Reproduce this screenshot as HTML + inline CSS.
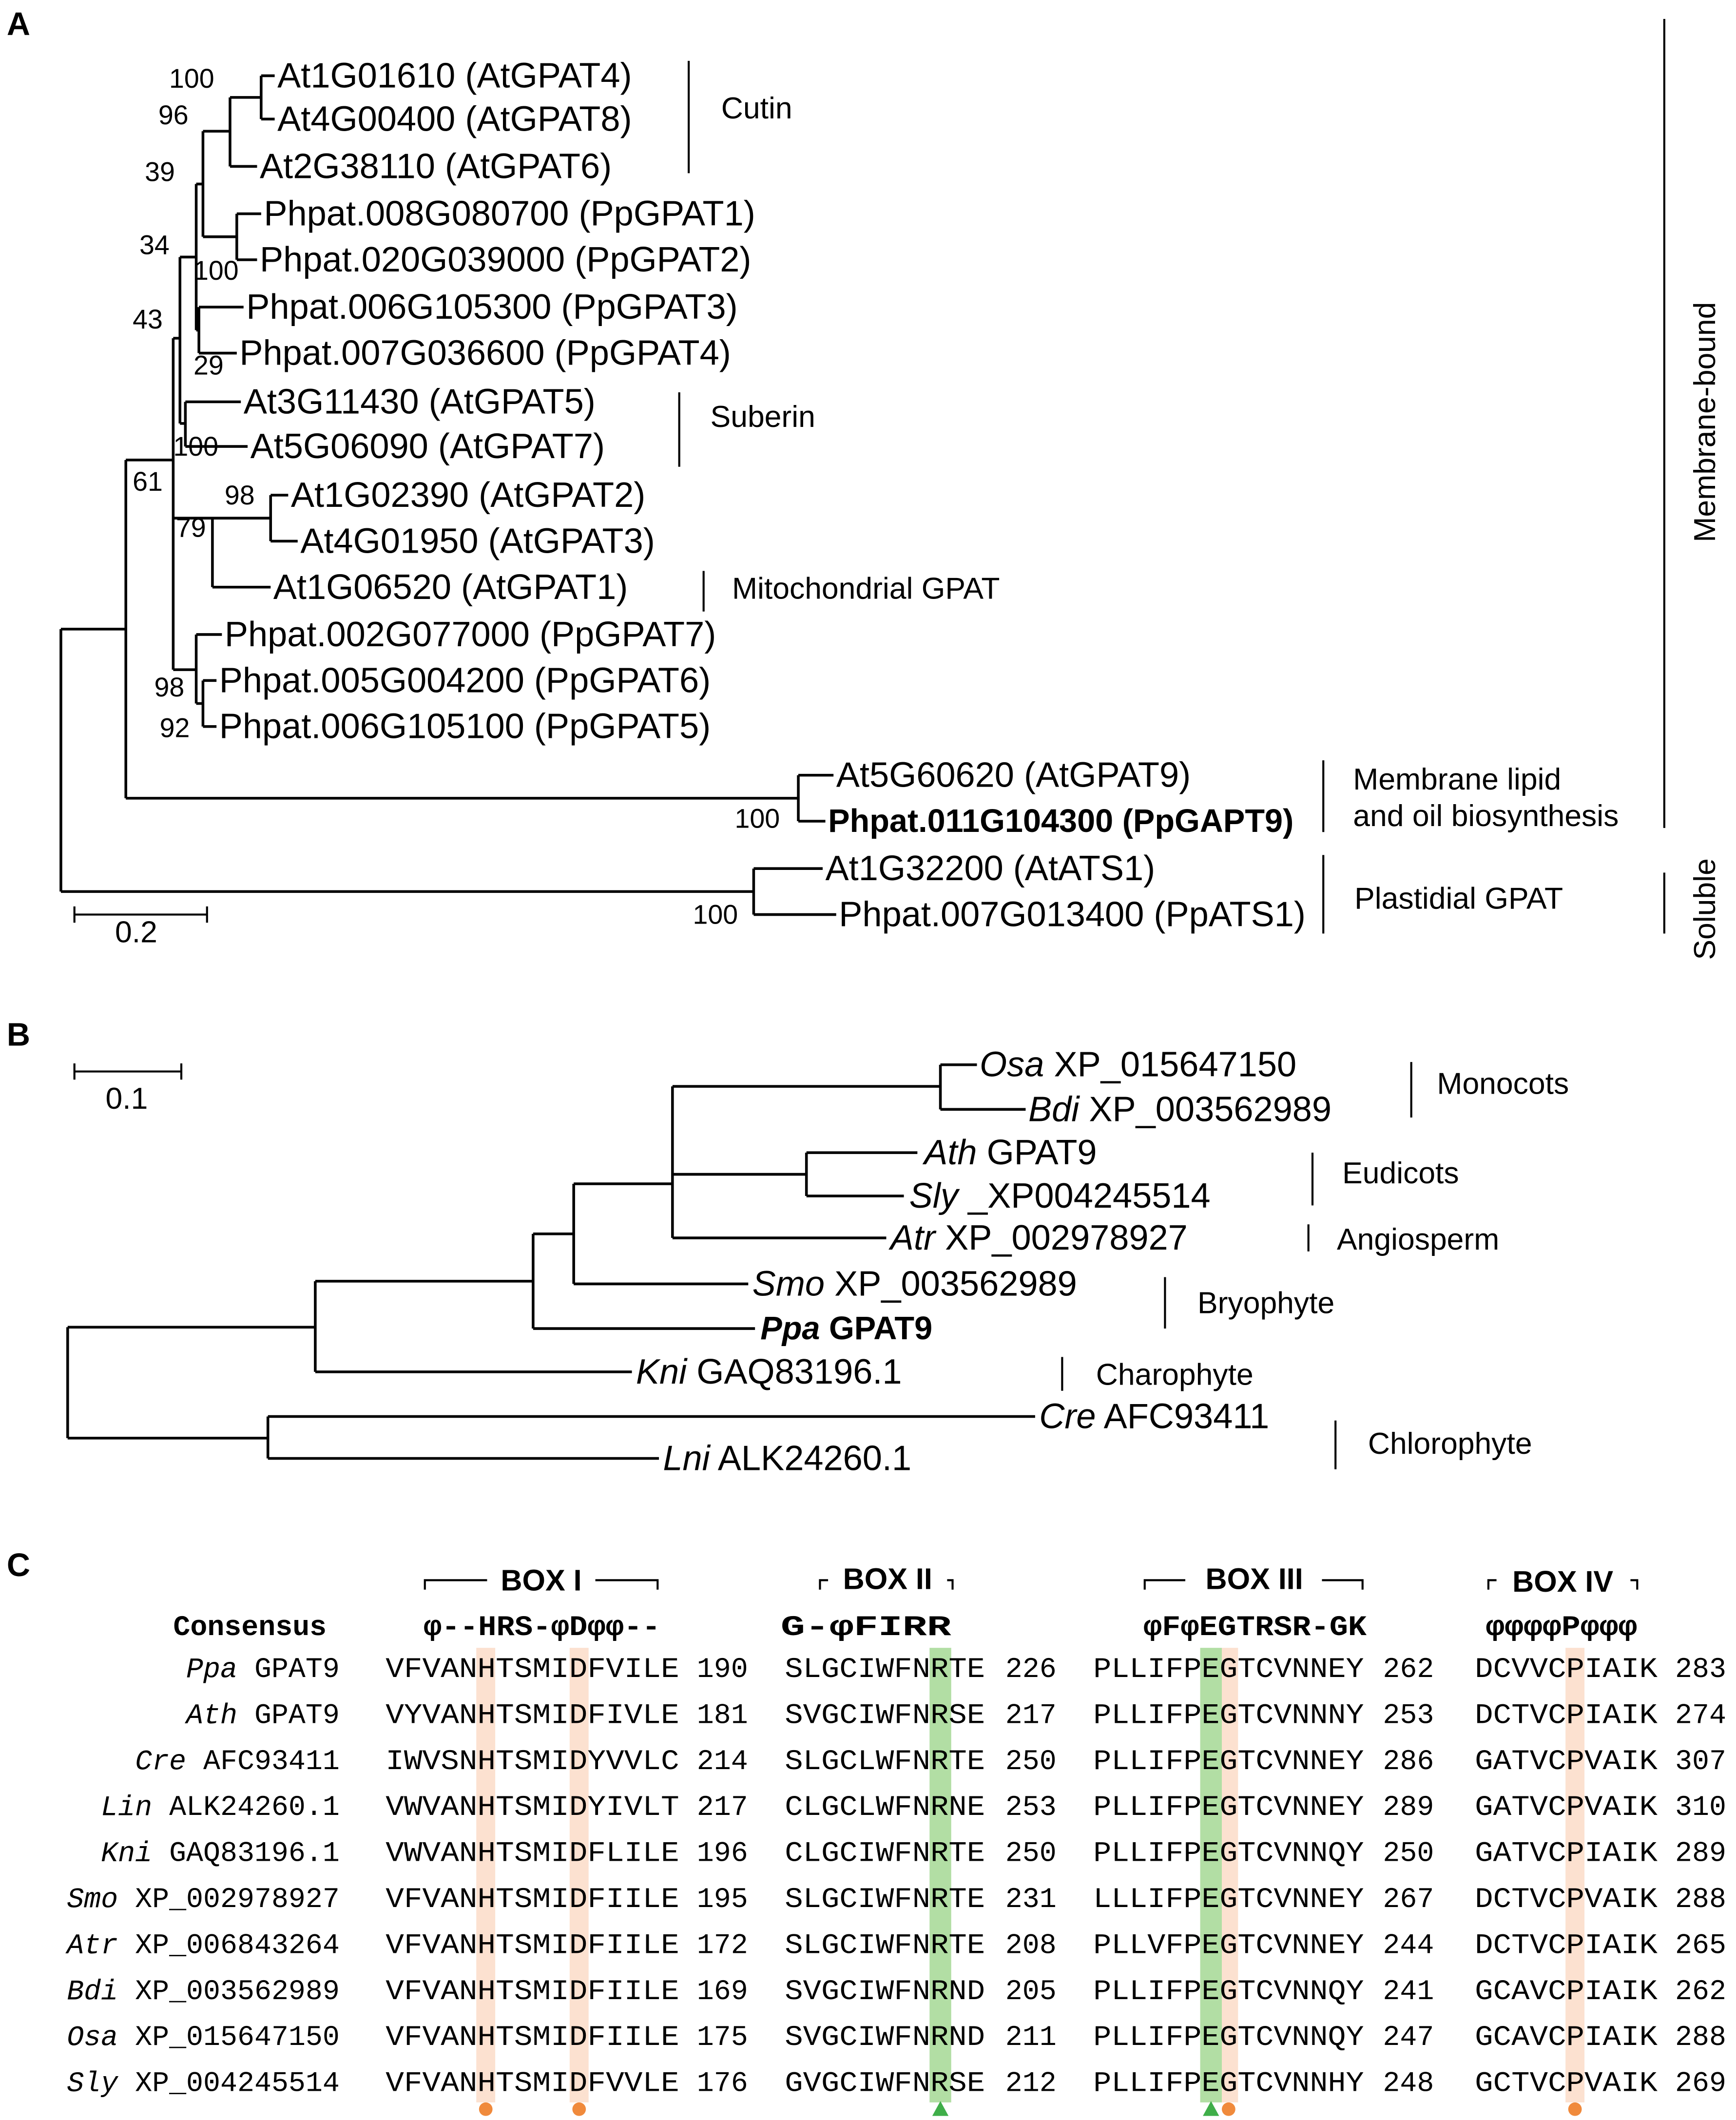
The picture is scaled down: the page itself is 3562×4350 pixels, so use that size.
<!DOCTYPE html>
<html><head><meta charset="utf-8"><style>
html,body{margin:0;padding:0;background:#fff;}
svg{display:block;}
.l{font-family:"Liberation Sans",sans-serif;font-size:26px;fill:#000;}
.b{font-family:"Liberation Sans",sans-serif;font-size:20px;fill:#000;}
.g{font-family:"Liberation Sans",sans-serif;font-size:22.5px;fill:#000;}
.P{font-family:"Liberation Sans",sans-serif;font-size:24px;font-weight:bold;fill:#000;}
.m{font-family:"Liberation Mono",monospace;font-size:21px;fill:#000;}
</style></head><body>
<svg width="3562" height="4350" viewBox="0 0 1283 1567" preserveAspectRatio="none" xmlns="http://www.w3.org/2000/svg">
<rect width="1283" height="1567" fill="#fff"/>
<g dominant-baseline="central">
<text class="P" x="5" y="18">A</text>
<text class="P" x="5" y="765">B</text>
<text class="P" x="5" y="1157">C</text>
</g>
<path fill="none" stroke="#000" stroke-width="2" d="
M193 56V88 M193 56H203 M193 88H203
M170 72H193 M170 72V123 M170 123H190
M150 97H170 M150 97V175
M175 158V192 M175 158H193 M175 192H190 M150 175H175
M147 227V261 M147 227H180 M147 261H175
M145 136H150 M145 136V244 M145 244H147
M137 297V330 M137 297H178 M137 330H183
M133 190H145 M133 190V313 M133 313H137
M200 366V400 M200 366H213 M200 400H220
M157 383H200 M157 383V434 M157 434H200
M150 503V537 M150 503H160 M150 537H160
M145 469V520 M145 469H164 M145 520H150
M128 250H133 M128 250V495 M128 495H145 M128 383H157
M590 573V607 M590 573H616 M590 607H610
M93 340H128 M93 340V590 M93 590H590
M557 642V676 M557 642H608 M557 676H618
M45 465H93 M45 465V659 M45 659H557
"/>
<g class="l" dominant-baseline="central">
<text x="205" y="56">At1G01610 (AtGPAT4)</text>
<text x="205" y="88">At4G00400 (AtGPAT8)</text>
<text x="192" y="123">At2G38110 (AtGPAT6)</text>
<text x="195" y="158">Phpat.008G080700 (PpGPAT1)</text>
<text x="192" y="192">Phpat.020G039000 (PpGPAT2)</text>
<text x="182" y="227">Phpat.006G105300 (PpGPAT3)</text>
<text x="177" y="261">Phpat.007G036600 (PpGPAT4)</text>
<text x="180" y="297">At3G11430 (AtGPAT5)</text>
<text x="185" y="330">At5G06090 (AtGPAT7)</text>
<text x="215" y="366">At1G02390 (AtGPAT2)</text>
<text x="222" y="400">At4G01950 (AtGPAT3)</text>
<text x="202" y="434">At1G06520 (AtGPAT1)</text>
<text x="166" y="469">Phpat.002G077000 (PpGPAT7)</text>
<text x="162" y="503">Phpat.005G004200 (PpGPAT6)</text>
<text x="162" y="537">Phpat.006G105100 (PpGPAT5)</text>
<text x="618" y="573">At5G60620 (AtGPAT9)</text>
<text x="612" y="607" font-weight="bold" style="font-size:24px">Phpat.011G104300 (PpGAPT9)</text>
<text x="610" y="642">At1G32200 (AtATS1)</text>
<text x="620" y="676">Phpat.007G013400 (PpATS1)</text>
</g>
<g class="b" dominant-baseline="central">
<text x="125" y="58">100</text><text x="117" y="85">96</text><text x="107" y="127">39</text>
<text x="103" y="181">34</text><text x="143" y="200">100</text><text x="98" y="236">43</text>
<text x="143" y="270">29</text><text x="128" y="330">100</text><text x="98" y="356">61</text>
<text x="166" y="366">98</text><text x="130" y="390">79</text><text x="114" y="508">98</text>
<text x="118" y="538">92</text><text x="543" y="605">100</text><text x="512" y="676">100</text>
</g>
<path fill="none" stroke="#000" stroke-width="1.5" d="M509 45V128 M502 290V345 M520 422V452 M978 562V615 M978 632V690 M1230 14V612 M1230 645V690 M55 676H153 M55 670V682 M153 670V682"/>
<g class="g" dominant-baseline="central">
<text x="533" y="80">Cutin</text>
<text x="525" y="308">Suberin</text>
<text x="541" y="435">Mitochondrial GPAT</text>
<text x="1000" y="576">Membrane lipid</text>
<text x="1000" y="603">and oil biosynthesis</text>
<text x="1001" y="664">Plastidial  GPAT</text>
<text x="85" y="689">0.2</text>
<text transform="translate(1260,312) rotate(-90)" text-anchor="middle">Membrane-bound</text>
<text transform="translate(1260,672) rotate(-90)" text-anchor="middle">Soluble</text>
</g>
<path fill="none" stroke="#000" stroke-width="2" d="
M695 787V820 M695 787H722 M695 820H758
M596 852V884 M596 852H678 M596 884H668
M497 803H695 M497 803V915 M497 868H596 M497 915H655
M424 875H497 M424 875V949 M424 949H553
M394 912H424 M394 912V982 M394 982H558
M233 947H394 M233 947V1014 M233 1014H467
M198 1047V1078 M198 1047H765 M198 1078H487
M50 981H233 M50 981V1063 M50 1063H198
"/>
<path fill="none" stroke="#000" stroke-width="1.5" d="M55 792H134 M55 786V798 M134 786V798 M1043 785V826 M970 852V891 M967 905V925 M861 944V982 M785 1003V1028 M987 1050V1086"/>
<g class="l" dominant-baseline="central">
<text x="724" y="787"><tspan font-style="italic">Osa</tspan> XP_015647150</text>
<text x="760" y="820"><tspan font-style="italic">Bdi</tspan> XP_003562989</text>
<text x="683" y="852"><tspan font-style="italic">Ath</tspan> GPAT9</text>
<text x="672" y="884"><tspan font-style="italic">Sly</tspan> _XP004245514</text>
<text x="658" y="915"><tspan font-style="italic">Atr</tspan> XP_002978927</text>
<text x="556" y="949"><tspan font-style="italic">Smo</tspan> XP_003562989</text>
<text x="562" y="982" font-weight="bold" style="font-size:24px"><tspan font-style="italic">Ppa</tspan> GPAT9</text>
<text x="470" y="1014"><tspan font-style="italic">Kni</tspan> GAQ83196.1</text>
<text x="768" y="1047"><tspan font-style="italic">Cre</tspan> AFC93411</text>
<text x="490" y="1078"><tspan font-style="italic">Lni</tspan> ALK24260.1</text>
</g>
<g class="g" dominant-baseline="central">
<text x="78" y="812">0.1</text>
<text x="1062" y="801">Monocots</text>
<text x="992" y="867">Eudicots</text>
<text x="988" y="916">Angiosperm</text>
<text x="885" y="963">Bryophyte</text>
<text x="810" y="1016">Charophyte</text>
<text x="1011" y="1067">Chlorophyte</text>
</g>
<g>
<rect x="352" y="1218" width="14" height="336" fill="#fbd9c4" opacity="0.8"/>
<rect x="421" y="1218" width="14" height="336" fill="#fbd9c4" opacity="0.8"/>
<rect x="687" y="1218" width="16" height="336" fill="#9fd68d" opacity="0.8"/>
<rect x="887" y="1218" width="16" height="336" fill="#9fd68d" opacity="0.8"/>
<rect x="903" y="1218" width="12" height="336" fill="#fbd9c4" opacity="0.8"/>
<rect x="1157" y="1218" width="14" height="336" fill="#fbd9c4" opacity="0.8"/>
<circle cx="359" cy="1559" r="5" fill="#f08a3c"/>
<circle cx="428" cy="1559" r="5" fill="#f08a3c"/>
<circle cx="908" cy="1559" r="5" fill="#f08a3c"/>
<circle cx="1164" cy="1559" r="5" fill="#f08a3c"/>
<polygon points="695,1553 689,1564 701,1564" fill="#3fae49"/>
<polygon points="895,1553 889,1564 901,1564" fill="#3fae49"/>
</g>
<path fill="none" stroke="#000" stroke-width="1.5" d="M314 1175V1168H360 M440 1168H486V1175 M606 1175V1168H612 M700 1168H704V1175 M846 1175V1168H876 M977 1168H1007V1175 M1100 1175V1168H1106 M1205 1168H1210V1175"/>
<g class="P" dominant-baseline="central" text-anchor="middle" style="font-size:22px">
<text x="400" y="1168">BOX I</text>
<text x="656" y="1167">BOX II</text>
<text x="927" y="1167">BOX III</text>
<text x="1155" y="1169">BOX IV</text>
</g>
<g class="m" dominant-baseline="central">
<text x="128" y="1203" font-weight="bold">Consensus</text>
<text x="313" y="1203" font-weight="bold" textLength="175" lengthAdjust="spacingAndGlyphs">φ--HRS-φDφφ--</text>
<text x="577" y="1203" font-weight="bold" textLength="126" lengthAdjust="spacingAndGlyphs">G-φFIRR</text>
<text x="845" y="1203" font-weight="bold" textLength="165" lengthAdjust="spacingAndGlyphs">φFφEGTRSR-GK</text>
<text x="1098" y="1203" font-weight="bold" textLength="112" lengthAdjust="spacingAndGlyphs">φφφφPφφφ</text>
</g>
<g class="m" dominant-baseline="central">
<g text-anchor="end">
<text x="251" y="1234"><tspan font-style="italic">Ppa</tspan> GPAT9</text>
<text x="251" y="1268"><tspan font-style="italic">Ath</tspan> GPAT9</text>
<text x="251" y="1302"><tspan font-style="italic">Cre</tspan> AFC93411</text>
<text x="251" y="1336"><tspan font-style="italic">Lin</tspan> ALK24260.1</text>
<text x="251" y="1370"><tspan font-style="italic">Kni</tspan> GAQ83196.1</text>
<text x="251" y="1404"><tspan font-style="italic">Smo</tspan> XP_002978927</text>
<text x="251" y="1438"><tspan font-style="italic">Atr</tspan> XP_006843264</text>
<text x="251" y="1472"><tspan font-style="italic">Bdi</tspan> XP_003562989</text>
<text x="251" y="1506"><tspan font-style="italic">Osa</tspan> XP_015647150</text>
<text x="251" y="1540"><tspan font-style="italic">Sly</tspan> XP_004245514</text>
</g>
</g>
<g class="m" dominant-baseline="central">
<text x="285" y="1234" textLength="217" lengthAdjust="spacingAndGlyphs">VFVANHTSMIDFVILE</text><text x="515" y="1234">190</text><text x="580" y="1234" textLength="148" lengthAdjust="spacingAndGlyphs">SLGCIWFNRTE</text><text x="743" y="1234">226</text><text x="808" y="1234" textLength="200" lengthAdjust="spacingAndGlyphs">PLLIFPEGTCVNNEY</text><text x="1022" y="1234">262</text><text x="1090" y="1234" textLength="135" lengthAdjust="spacingAndGlyphs">DCVVCPIAIK</text><text x="1238" y="1234">283</text>
<text x="285" y="1268" textLength="217" lengthAdjust="spacingAndGlyphs">VYVANHTSMIDFIVLE</text><text x="515" y="1268">181</text><text x="580" y="1268" textLength="148" lengthAdjust="spacingAndGlyphs">SVGCIWFNRSE</text><text x="743" y="1268">217</text><text x="808" y="1268" textLength="200" lengthAdjust="spacingAndGlyphs">PLLIFPEGTCVNNNY</text><text x="1022" y="1268">253</text><text x="1090" y="1268" textLength="135" lengthAdjust="spacingAndGlyphs">DCTVCPIAIK</text><text x="1238" y="1268">274</text>
<text x="285" y="1302" textLength="217" lengthAdjust="spacingAndGlyphs">IWVSNHTSMIDYVVLC</text><text x="515" y="1302">214</text><text x="580" y="1302" textLength="148" lengthAdjust="spacingAndGlyphs">SLGCLWFNRTE</text><text x="743" y="1302">250</text><text x="808" y="1302" textLength="200" lengthAdjust="spacingAndGlyphs">PLLIFPEGTCVNNEY</text><text x="1022" y="1302">286</text><text x="1090" y="1302" textLength="135" lengthAdjust="spacingAndGlyphs">GATVCPVAIK</text><text x="1238" y="1302">307</text>
<text x="285" y="1336" textLength="217" lengthAdjust="spacingAndGlyphs">VWVANHTSMIDYIVLT</text><text x="515" y="1336">217</text><text x="580" y="1336" textLength="148" lengthAdjust="spacingAndGlyphs">CLGCLWFNRNE</text><text x="743" y="1336">253</text><text x="808" y="1336" textLength="200" lengthAdjust="spacingAndGlyphs">PLLIFPEGTCVNNEY</text><text x="1022" y="1336">289</text><text x="1090" y="1336" textLength="135" lengthAdjust="spacingAndGlyphs">GATVCPVAIK</text><text x="1238" y="1336">310</text>
<text x="285" y="1370" textLength="217" lengthAdjust="spacingAndGlyphs">VWVANHTSMIDFLILE</text><text x="515" y="1370">196</text><text x="580" y="1370" textLength="148" lengthAdjust="spacingAndGlyphs">CLGCIWFNRTE</text><text x="743" y="1370">250</text><text x="808" y="1370" textLength="200" lengthAdjust="spacingAndGlyphs">PLLIFPEGTCVNNQY</text><text x="1022" y="1370">250</text><text x="1090" y="1370" textLength="135" lengthAdjust="spacingAndGlyphs">GATVCPIAIK</text><text x="1238" y="1370">289</text>
<text x="285" y="1404" textLength="217" lengthAdjust="spacingAndGlyphs">VFVANHTSMIDFIILE</text><text x="515" y="1404">195</text><text x="580" y="1404" textLength="148" lengthAdjust="spacingAndGlyphs">SLGCIWFNRTE</text><text x="743" y="1404">231</text><text x="808" y="1404" textLength="200" lengthAdjust="spacingAndGlyphs">LLLIFPEGTCVNNEY</text><text x="1022" y="1404">267</text><text x="1090" y="1404" textLength="135" lengthAdjust="spacingAndGlyphs">DCTVCPVAIK</text><text x="1238" y="1404">288</text>
<text x="285" y="1438" textLength="217" lengthAdjust="spacingAndGlyphs">VFVANHTSMIDFIILE</text><text x="515" y="1438">172</text><text x="580" y="1438" textLength="148" lengthAdjust="spacingAndGlyphs">SLGCIWFNRTE</text><text x="743" y="1438">208</text><text x="808" y="1438" textLength="200" lengthAdjust="spacingAndGlyphs">PLLVFPEGTCVNNEY</text><text x="1022" y="1438">244</text><text x="1090" y="1438" textLength="135" lengthAdjust="spacingAndGlyphs">DCTVCPIAIK</text><text x="1238" y="1438">265</text>
<text x="285" y="1472" textLength="217" lengthAdjust="spacingAndGlyphs">VFVANHTSMIDFIILE</text><text x="515" y="1472">169</text><text x="580" y="1472" textLength="148" lengthAdjust="spacingAndGlyphs">SVGCIWFNRND</text><text x="743" y="1472">205</text><text x="808" y="1472" textLength="200" lengthAdjust="spacingAndGlyphs">PLLIFPEGTCVNNQY</text><text x="1022" y="1472">241</text><text x="1090" y="1472" textLength="135" lengthAdjust="spacingAndGlyphs">GCAVCPIAIK</text><text x="1238" y="1472">262</text>
<text x="285" y="1506" textLength="217" lengthAdjust="spacingAndGlyphs">VFVANHTSMIDFIILE</text><text x="515" y="1506">175</text><text x="580" y="1506" textLength="148" lengthAdjust="spacingAndGlyphs">SVGCIWFNRND</text><text x="743" y="1506">211</text><text x="808" y="1506" textLength="200" lengthAdjust="spacingAndGlyphs">PLLIFPEGTCVNNQY</text><text x="1022" y="1506">247</text><text x="1090" y="1506" textLength="135" lengthAdjust="spacingAndGlyphs">GCAVCPIAIK</text><text x="1238" y="1506">288</text>
<text x="285" y="1540" textLength="217" lengthAdjust="spacingAndGlyphs">VFVANHTSMIDFVVLE</text><text x="515" y="1540">176</text><text x="580" y="1540" textLength="148" lengthAdjust="spacingAndGlyphs">GVGCIWFNRSE</text><text x="743" y="1540">212</text><text x="808" y="1540" textLength="200" lengthAdjust="spacingAndGlyphs">PLLIFPEGTCVNNHY</text><text x="1022" y="1540">248</text><text x="1090" y="1540" textLength="135" lengthAdjust="spacingAndGlyphs">GCTVCPVAIK</text><text x="1238" y="1540">269</text>
</g>
</svg>
</body></html>
